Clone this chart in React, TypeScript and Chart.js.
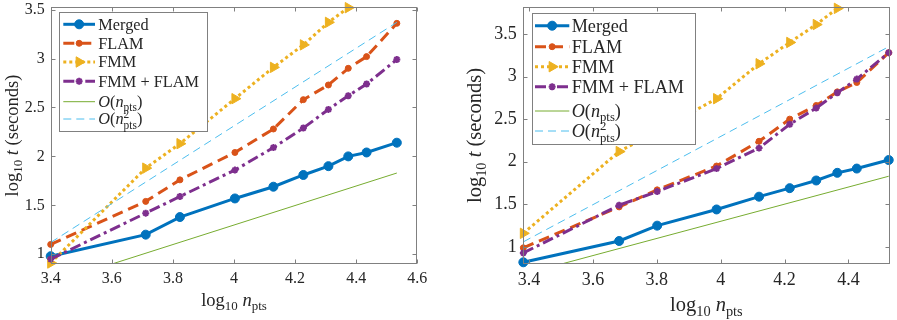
import React, { useEffect, useRef } from "react";
import { Chart, registerables } from "chart.js";
import { drawPoint } from "chart.js/helpers";

Chart.register(...registerables);

// ---------- data: left panel ----------
const leftX = [3.4, 3.711, 3.823, 4.003, 4.129, 4.227, 4.309, 4.374, 4.434, 4.533];
const leftMerged = [0.98, 1.2, 1.38, 1.57, 1.69, 1.81, 1.9, 2.0, 2.04, 2.14];
const leftFLAM = [1.1, 1.54, 1.76, 2.04, 2.28, 2.58, 2.73, 2.9, 3.02, 3.36];
const leftFMM = [0.91, 1.88, 2.13, 2.59, 2.91, 3.14, 3.37, 3.52];
const leftFMMFLAM = [0.95, 1.42, 1.59, 1.86, 2.09, 2.29, 2.48, 2.62, 2.74, 2.99];
const leftRefX = [3.4, 4.533];
const leftOn = [0.7, 1.83];
const leftOn2 = [1.12, 3.37];
const leftXTicks = [3.4, 3.6, 3.8, 4, 4.2, 4.4, 4.6];
const leftYTicks = [1, 1.5, 2, 2.5, 3, 3.5];

// ---------- data: right panel ----------
const rightX = [3.382, 3.682, 3.801, 3.987, 4.12, 4.216, 4.299, 4.365, 4.426, 4.526];
const rightMerged = [0.82, 1.07, 1.25, 1.44, 1.59, 1.69, 1.78, 1.87, 1.92, 2.02];
const rightFLAM = [0.99, 1.47, 1.67, 1.95, 2.24, 2.5, 2.66, 2.82, 2.93, 3.28];
const rightFMM = [1.16, 2.12, 2.36, 2.74, 3.15, 3.4, 3.61, 3.8];
const rightFMMFLAM = [0.93, 1.49, 1.65, 1.92, 2.16, 2.44, 2.63, 2.81, 2.97, 3.28];
const rightRefX = [3.382, 4.526];
const rightOn = [0.68, 1.83];
const rightOn2 = [1.06, 3.35];
const rightXTicks = [3.4, 3.6, 3.8, 4, 4.2, 4.4];
const rightYTicks = [1, 1.5, 2, 2.5, 3, 3.5];

const seriesLabels = ["Merged", "FLAM", "FMM", "FMM + FLAM", "O(n_pts)", "O(n_pts^2)"];

type Part = { t?: string; it?: boolean; sub?: string; sup?: string };
const legendParts: Part[][] = [
  [{ t: "Merged" }],
  [{ t: "FLAM" }],
  [{ t: "FMM" }],
  [{ t: "FMM + FLAM" }],
  [{ t: "O", it: true }, { t: "(" }, { t: "n", it: true }, { sub: "pts" }, { t: ")" }],
  [{ t: "O", it: true }, { t: "(" }, { t: "n", it: true }, { sup: "2", sub: "pts" }, { t: ")" }],
];
const xTitleParts: Part[] = [{ t: "log" }, { sub: "10" }, { t: " " }, { t: "n", it: true }, { sub: "pts" }];
const yTitleParts: Part[] = [{ t: "log" }, { sub: "10" }, { t: " " }, { t: "t", it: true }, { t: " (seconds)" }];

const FONT = '"Liberation Serif", "DejaVu Serif", serif';
const TEXT = "#262626";
const AXIS = "#808080";
const COLORS = ["#0072BD", "#D95319", "#EDB120", "#7E2F8E", "#77AC30", "#4DBEEE"];

function partWidth(ctx: CanvasRenderingContext2D, p: Part, size: number) {
  if (p.t !== undefined) {
    ctx.font = `${p.it ? "italic " : ""}${size}px ${FONT}`;
    return ctx.measureText(p.t).width;
  }
  ctx.font = `${size * 0.7}px ${FONT}`;
  return Math.max(p.sub ? ctx.measureText(p.sub).width : 0, p.sup ? ctx.measureText(p.sup).width : 0);
}

function drawRich(ctx: CanvasRenderingContext2D, parts: Part[], x: number, y: number, size: number, align: "left" | "center") {
  const total = parts.reduce((a, p) => a + partWidth(ctx, p, size), 0);
  let cx = align === "center" ? x - total / 2 : x;
  ctx.textAlign = "left";
  ctx.textBaseline = "alphabetic";
  ctx.fillStyle = TEXT;
  for (const p of parts) {
    const w = partWidth(ctx, p, size);
    if (p.t !== undefined) {
      ctx.font = `${p.it ? "italic " : ""}${size}px ${FONT}`;
      ctx.fillText(p.t, cx, y);
    } else {
      ctx.font = `${size * 0.7}px ${FONT}`;
      if (p.sub) ctx.fillText(p.sub, cx, y + size * (p.sup ? 0.3 : 0.22));
      if (p.sup) ctx.fillText(p.sup, cx, y - size * 0.4);
    }
    cx += w;
  }
}

type PanelCfg = {
  W: number;
  H: number;
  area: { left: number; right: number; top: number; bottom: number };
  xMin: number; xMax: number; yMin: number; yMax: number;
  xTicks: number[]; yTicks: number[];
  tickFont: number;
  titleFont: number;
  xTitleY: number;
  yTitleX: number;
  legend: { left: number; top: number; right: number; bottom: number; rows: number[]; lineX: [number, number]; textX: number; font: number };
  x: number[]; refX: number[];
  merged: number[]; flam: number[]; fmm: number[]; fmmflam: number[]; on: number[]; on2: number[];
};

function pts(xs: number[], ys: number[]) {
  return ys.map((y, i) => ({ x: xs[i], y }));
}

function Panel({ cfg }: { cfg: PanelCfg }) {
  const ref = useRef<HTMLCanvasElement | null>(null);
  useEffect(() => {
    const canvas = ref.current!;
    const base = { showLine: true, tension: 0, borderCapStyle: "butt", borderJoinStyle: "miter", clip: 8 };
    const datasets: any[] = [
      { ...base, label: seriesLabels[0], data: pts(cfg.x, cfg.merged), borderColor: COLORS[0], backgroundColor: COLORS[0], borderWidth: 3, borderDash: [], pointStyle: "circle", pointRadius: 4.5, pointBorderWidth: 1, pointRotation: 0, order: 6 },
      { ...base, label: seriesLabels[1], data: pts(cfg.x, cfg.flam), borderColor: COLORS[1], backgroundColor: COLORS[1], borderWidth: 3, borderDash: [11, 6], pointStyle: "circle", pointRadius: 3, pointBorderWidth: 1, pointRotation: 0, order: 5 },
      { ...base, label: seriesLabels[2], data: pts(cfg.x, cfg.fmm), borderColor: COLORS[2], backgroundColor: COLORS[2], borderWidth: 3, borderDash: [3, 3], pointStyle: "triangle", pointRadius: 6, pointBorderWidth: 1, pointRotation: 90, order: 4 },
      { ...base, label: seriesLabels[3], data: pts(cfg.x, cfg.fmmflam), borderColor: COLORS[3], backgroundColor: COLORS[3], borderWidth: 3, borderDash: [11, 4, 3, 4], pointStyle: "star", pointRadius: 3.5, pointBorderWidth: 2, pointRotation: 0, order: 3 },
      { ...base, clip: 0, label: seriesLabels[4], data: pts(cfg.refX, cfg.on), borderColor: COLORS[4], backgroundColor: COLORS[4], borderWidth: 1, borderDash: [], pointRadius: 0, order: 2 },
      { ...base, clip: 0, label: seriesLabels[5], data: pts(cfg.refX, cfg.on2), borderColor: COLORS[5], backgroundColor: COLORS[5], borderWidth: 1, borderDash: [8, 5], pointRadius: 0, order: 1 },
    ];
    datasets.forEach((d) => {
      d.pointBackgroundColor = d.backgroundColor;
      d.pointBorderColor = d.borderColor;
    });

    const framePlugin = {
      id: "frameAndLegend",
      afterDatasetsDraw(chart: any) {
        const { ctx, chartArea: a, scales } = chart;
        ctx.save();
        // box
        ctx.strokeStyle = AXIS;
        ctx.lineWidth = 1;
        ctx.setLineDash([]);
        const L = Math.round(a.left) + 0.5, R = Math.round(a.right) - 0.5, T = Math.round(a.top) + 0.5, B = Math.round(a.bottom) - 0.5;
        ctx.strokeRect(L, T, R - L, B - T);
        ctx.beginPath();
        for (const v of cfg.xTicks) {
          const px = Math.round(scales.x.getPixelForValue(v)) + 0.5;
          ctx.moveTo(px, B); ctx.lineTo(px, B - 4);
          ctx.moveTo(px, T); ctx.lineTo(px, T + 4);
        }
        for (const v of cfg.yTicks) {
          const py = Math.round(scales.y.getPixelForValue(v)) + 0.5;
          ctx.moveTo(L, py); ctx.lineTo(L + 4, py);
          ctx.moveTo(R, py); ctx.lineTo(R - 4, py);
        }
        ctx.stroke();

        // legend
        const lg = cfg.legend;
        ctx.fillStyle = "#ffffff";
        ctx.fillRect(lg.left, lg.top, lg.right - lg.left, lg.bottom - lg.top);
        ctx.strokeStyle = AXIS;
        ctx.lineWidth = 1;
        ctx.strokeRect(Math.round(lg.left) + 0.5, Math.round(lg.top) + 0.5, Math.round(lg.right - lg.left), Math.round(lg.bottom - lg.top));
        chart.data.datasets.forEach((d: any, i: number) => {
          const y = lg.rows[i];
          ctx.save();
          ctx.strokeStyle = d.borderColor;
          ctx.lineWidth = d.borderWidth;
          ctx.lineCap = "butt";
          ctx.setLineDash(d.borderDash || []);
          ctx.beginPath();
          ctx.moveTo(lg.lineX[0], y);
          ctx.lineTo(lg.lineX[1], y);
          ctx.stroke();
          if (d.pointRadius > 0) {
            ctx.setLineDash([]);
            ctx.fillStyle = d.backgroundColor;
            ctx.strokeStyle = d.borderColor;
            ctx.lineWidth = d.pointBorderWidth;
            drawPoint(ctx, { pointStyle: d.pointStyle, rotation: d.pointRotation, radius: d.pointRadius, borderWidth: d.pointBorderWidth } as any, (lg.lineX[0] + lg.lineX[1]) / 2, y);
          }
          ctx.restore();
          drawRich(ctx, legendParts[i], lg.textX, y + lg.font * 0.33, lg.font, "left");
        });

        // axis titles
        drawRich(ctx, xTitleParts, (a.left + a.right) / 2, cfg.xTitleY, cfg.titleFont, "center");
        ctx.save();
        ctx.translate(cfg.yTitleX, (a.top + a.bottom) / 2);
        ctx.rotate(-Math.PI / 2);
        drawRich(ctx, yTitleParts, 0, 0, cfg.titleFont, "center");
        ctx.restore();
        ctx.restore();
      },
    };

    const tickOpts = {
      font: { family: FONT, size: cfg.tickFont },
      color: TEXT,
      autoSkip: false,
      maxRotation: 0,
      callback: (v: any) => String(Math.round(v * 100) / 100),
    };

    const chart = new Chart(canvas, {
      type: "line",
      data: { datasets },
      options: {
        responsive: false,
        animation: false,
        devicePixelRatio: 1,
        layout: { padding: { left: 0, top: cfg.area.top, right: cfg.W - cfg.area.right, bottom: 0 } },
        plugins: { legend: { display: false }, tooltip: { enabled: false } },
        scales: {
          x: {
            type: "linear",
            min: cfg.xMin,
            max: cfg.xMax,
            grid: { display: false, drawTicks: false },
            border: { display: false },
            ticks: { ...tickOpts, padding: 5 },
            afterBuildTicks: (s: any) => { s.ticks = cfg.xTicks.map((v) => ({ value: v })); },
            afterFit: (s: any) => { s.height = cfg.H - cfg.area.bottom; s.paddingLeft = 0; s.paddingRight = 0; },
          },
          y: {
            type: "linear",
            min: cfg.yMin,
            max: cfg.yMax,
            grid: { display: false, drawTicks: false },
            border: { display: false },
            ticks: { ...tickOpts, padding: 6 },
            afterBuildTicks: (s: any) => { s.ticks = cfg.yTicks.map((v) => ({ value: v })); },
            afterFit: (s: any) => { s.width = cfg.area.left; s.paddingTop = 0; s.paddingBottom = 0; },
          },
        },
      } as any,
      plugins: [framePlugin],
    });
    return () => chart.destroy();
  }, [cfg]);
  return <canvas ref={ref} width={cfg.W} height={cfg.H} style={{ width: cfg.W, height: cfg.H, display: "block" }} />;
}

const leftCfg: PanelCfg = {
  W: 445, H: 320,
  area: { left: 50.7, right: 417.3, top: 5, bottom: 264 },
  xMin: 3.4, xMax: 4.6, yMin: 0.9, yMax: 3.527,
  xTicks: leftXTicks, yTicks: leftYTicks,
  tickFont: 16, titleFont: 18.5, xTitleY: 306, yTitleX: 18,
  legend: { left: 59.3, top: 12.3, right: 207.3, bottom: 131, rows: [24.3, 43.3, 62, 81.3, 101.7, 119], lineX: [63.3, 95], textX: 98.3, font: 16.3 },
  x: leftX, refX: leftRefX,
  merged: leftMerged, flam: leftFLAM, fmm: leftFMM, fmmflam: leftFMMFLAM, on: leftOn, on2: leftOn2,
};

const rightCfg: PanelCfg = {
  W: 447, H: 320,
  area: { left: 72.7, right: 440.7, top: 5, bottom: 264 },
  xMin: 3.38, xMax: 4.53, yMin: 0.8, yMax: 3.816,
  xTicks: rightXTicks, yTicks: rightYTicks,
  tickFont: 18, titleFont: 20.5, xTitleY: 311, yTitleX: 31,
  legend: { left: 81.7, top: 13.3, right: 245, bottom: 144.3, rows: [25.7, 46.7, 66.7, 86.7, 111, 131], lineX: [85, 119.3], textX: 121.7, font: 18.2 },
  x: rightX, refX: rightRefX,
  merged: rightMerged, flam: rightFLAM, fmm: rightFMM, fmmflam: rightFMMFLAM, on: rightOn, on2: rightOn2,
};

export default function App() {
  return (
    <div style={{ position: "absolute", left: 0, top: 0, width: 897, height: 320, background: "#fff", overflow: "hidden" }}>
      <div style={{ position: "absolute", left: 0, top: 0 }}>
        <Panel cfg={leftCfg} />
      </div>
      <div style={{ position: "absolute", left: 450, top: 0 }}>
        <Panel cfg={rightCfg} />
      </div>
    </div>
  );
}
